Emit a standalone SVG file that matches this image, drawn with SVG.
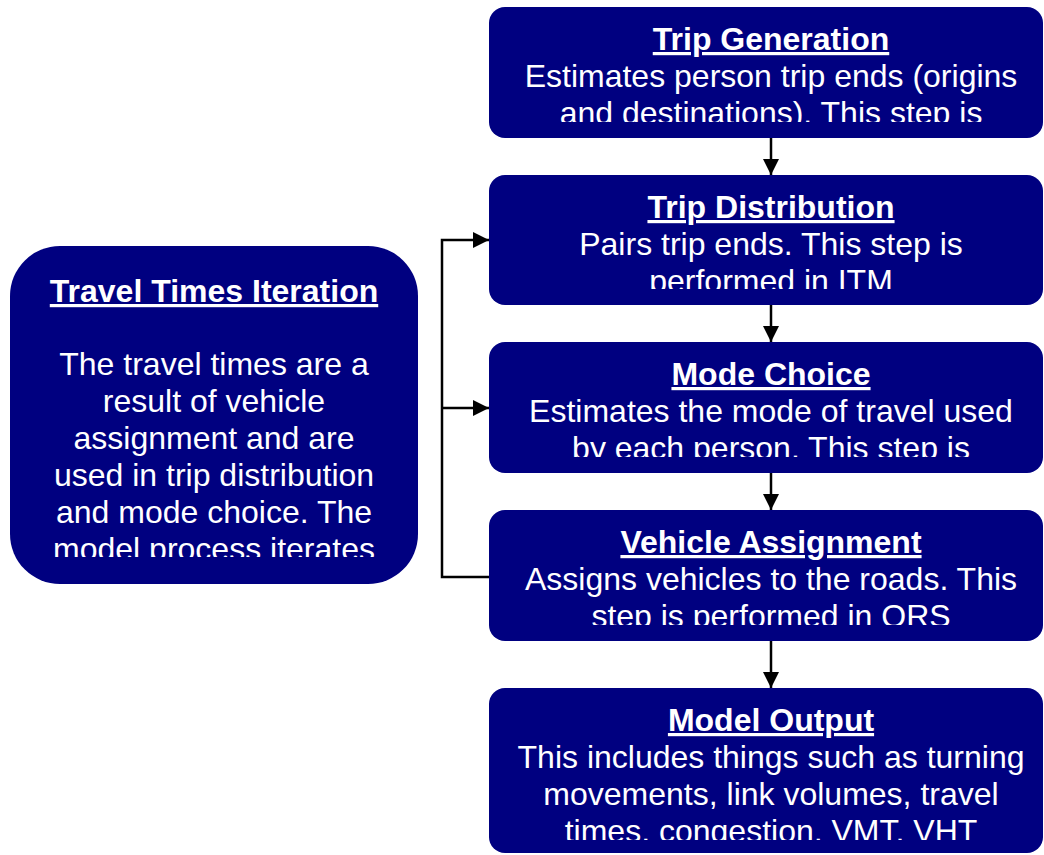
<svg xmlns="http://www.w3.org/2000/svg" width="1044" height="855" viewBox="0 0 1044 855">
  <style>
    .box { fill: #000080; }
    .title { font-family: "Liberation Sans", Arial, sans-serif; font-size: 32px; font-weight: bold; fill: #ffffff; text-anchor: middle; text-decoration: underline; text-decoration-thickness: 3px; }
    .body { font-family: "Liberation Sans", Arial, sans-serif; font-size: 32px; fill: #ffffff; text-anchor: middle; }
    .conn { fill: none; stroke: #000000; stroke-width: 2.5; }
  </style>
  <defs>
    <marker id="arrow" viewBox="0 0 10 10" refX="10" refY="5" markerUnits="userSpaceOnUse" markerWidth="16" markerHeight="16" orient="auto">
      <path d="M0,0 L10,5 L0,10 Z" fill="#000000"/>
    </marker>
    <clipPath id="clipGen"><rect x="489" y="7" width="554" height="115"/></clipPath>
    <clipPath id="clipDist"><rect x="489" y="175" width="554" height="114"/></clipPath>
    <clipPath id="clipMode"><rect x="489" y="342" width="554" height="115"/></clipPath>
    <clipPath id="clipVeh"><rect x="489" y="510" width="554" height="115"/></clipPath>
    <clipPath id="clipOut"><rect x="489" y="688" width="554" height="152"/></clipPath>
    <clipPath id="clipIter"><rect x="10" y="246" width="408" height="311"/></clipPath>
  </defs>

  <!-- connectors -->
  <g id="connectors">
    <path class="conn" d="M771,137 V175" marker-end="url(#arrow)"/>
    <path class="conn" d="M771,305 V342" marker-end="url(#arrow)"/>
    <path class="conn" d="M771,473 V510" marker-end="url(#arrow)"/>
    <path class="conn" d="M771,641 V688" marker-end="url(#arrow)"/>
    <path class="conn" d="M489,577 H442 V240 H489" marker-end="url(#arrow)"/>
    <path class="conn" d="M442,408 H489" marker-end="url(#arrow)"/>
  </g>

  <g id="trip-generation">
    <rect class="box" x="489" y="7" width="554" height="131" rx="16"/>
    <g clip-path="url(#clipGen)">
      <text class="title" x="771" y="50">Trip Generation</text>
      <text class="body" x="771" y="87">Estimates person trip ends (origins</text>
      <text class="body" x="771" y="124">and destinations). This step is</text>
    </g>
  </g>

  <g id="trip-distribution">
    <rect class="box" x="489" y="175" width="554" height="130" rx="16"/>
    <g clip-path="url(#clipDist)">
      <text class="title" x="771" y="218">Trip Distribution</text>
      <text class="body" x="771" y="255">Pairs trip ends. This step is</text>
      <text class="body" x="771" y="292">performed in ITM</text>
    </g>
  </g>

  <g id="mode-choice">
    <rect class="box" x="489" y="342" width="554" height="131" rx="16"/>
    <g clip-path="url(#clipMode)">
      <text class="title" x="771" y="385">Mode Choice</text>
      <text class="body" x="771" y="422">Estimates the mode of travel used</text>
      <text class="body" x="771" y="459">by each person. This step is</text>
    </g>
  </g>

  <g id="vehicle-assignment">
    <rect class="box" x="489" y="510" width="554" height="131" rx="16"/>
    <g clip-path="url(#clipVeh)">
      <text class="title" x="771" y="553">Vehicle Assignment</text>
      <text class="body" x="771" y="590">Assigns vehicles to the roads. This</text>
      <text class="body" x="771" y="627">step is performed in QRS</text>
    </g>
  </g>

  <g id="model-output">
    <rect class="box" x="489" y="688" width="554" height="165" rx="16"/>
    <g clip-path="url(#clipOut)">
      <text class="title" x="771" y="731">Model Output</text>
      <text class="body" x="771" y="768">This includes things such as turning</text>
      <text class="body" x="771" y="805">movements, link volumes, travel</text>
      <text class="body" x="771" y="842">times, congestion, VMT, VHT</text>
    </g>
  </g>

  <g id="travel-times-iteration">
    <rect class="box" x="10" y="246" width="408" height="338" rx="50"/>
    <g clip-path="url(#clipIter)">
      <text class="title" x="214" y="302">Travel Times Iteration</text>
      <text class="body" x="214" y="375">The travel times are a</text>
      <text class="body" x="214" y="412">result of vehicle</text>
      <text class="body" x="214" y="449">assignment and are</text>
      <text class="body" x="214" y="486">used in trip distribution</text>
      <text class="body" x="214" y="523">and mode choice. The</text>
      <text class="body" x="214" y="560">model process iterates</text>
    </g>
  </g>
</svg>
